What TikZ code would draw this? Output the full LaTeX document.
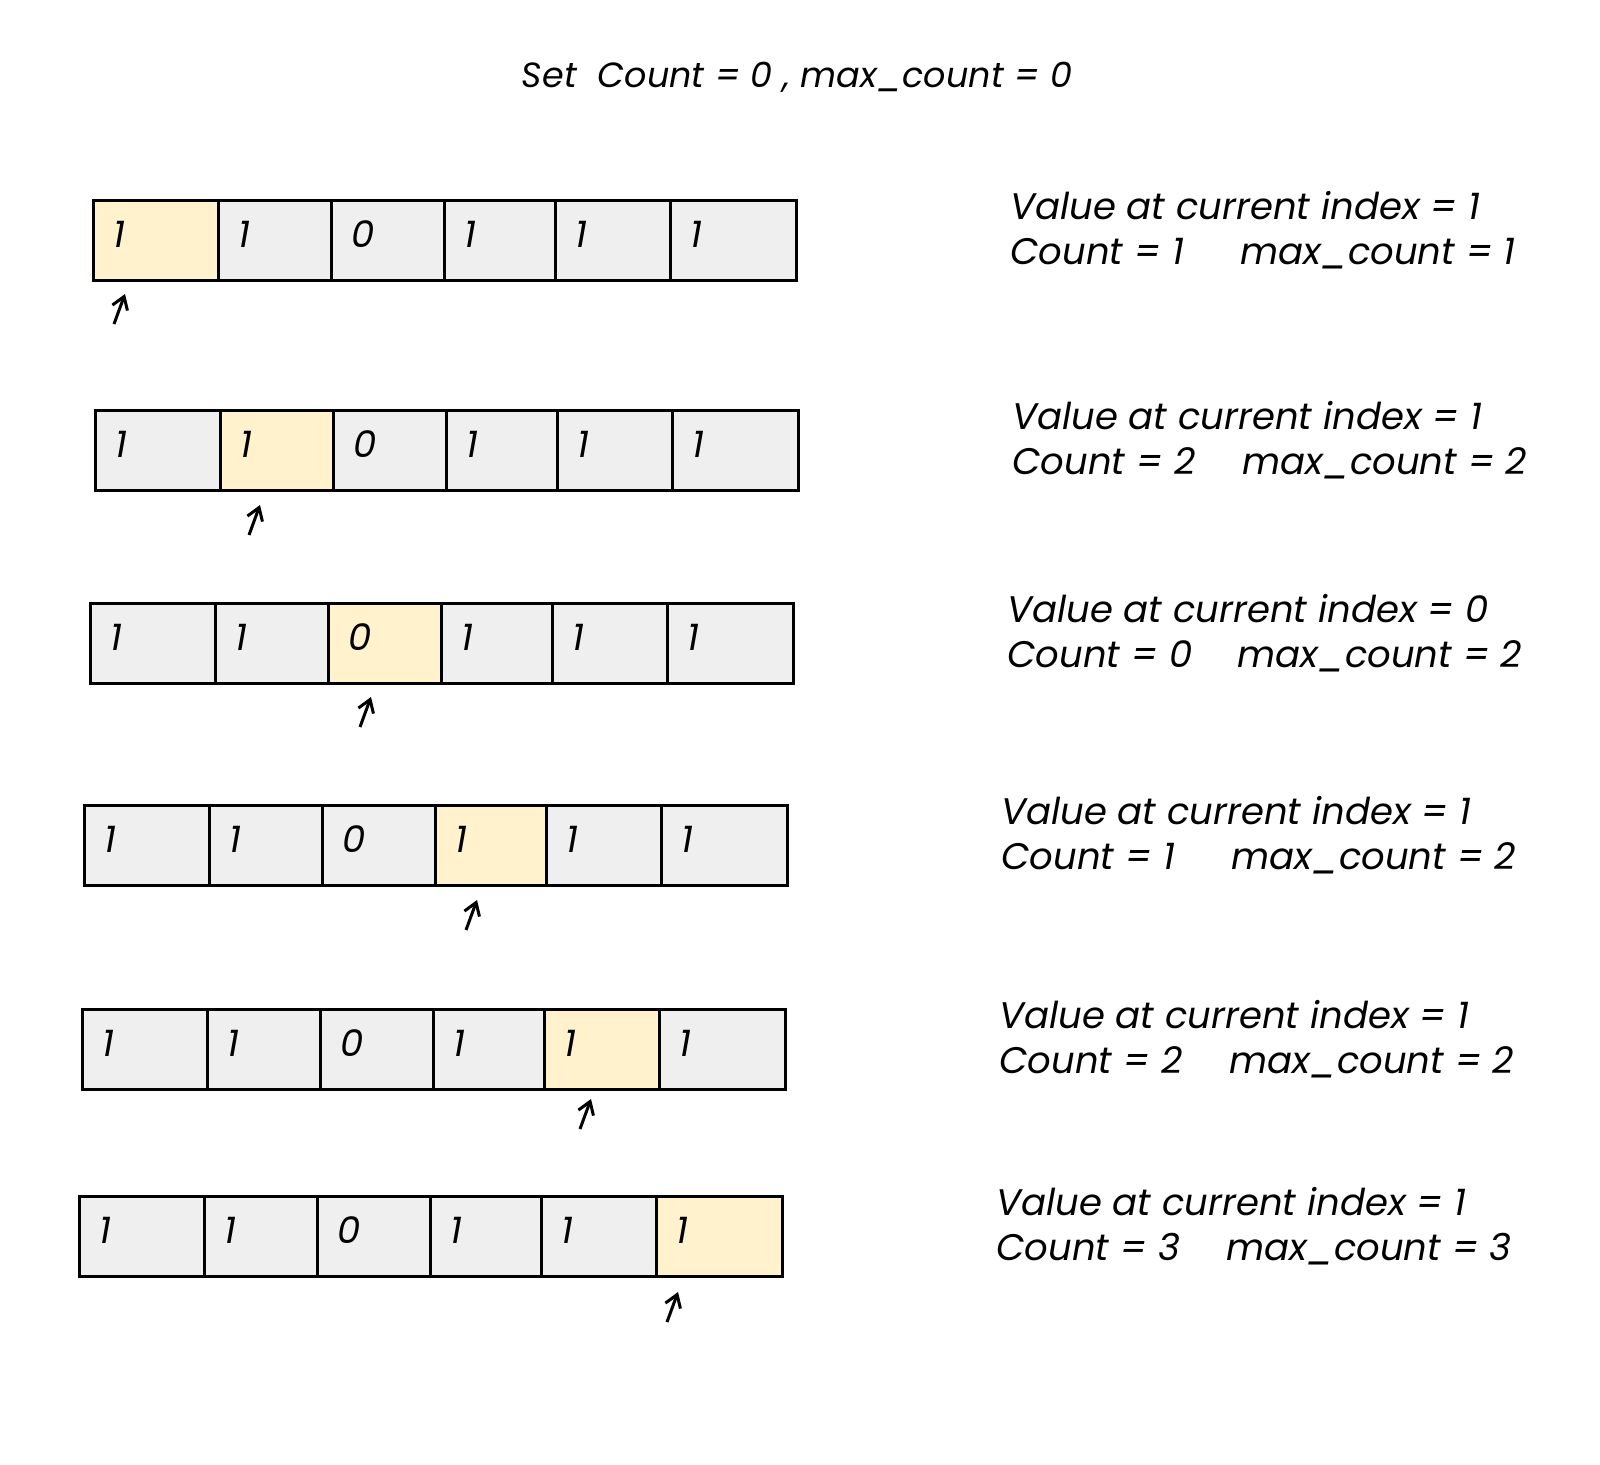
\documentclass[tikz,border=0pt]{standalone}
\usepackage{fontspec}
\setmainfont{Poppins}
\usetikzlibrary{arrows.meta,positioning}
\definecolor{cellgray}{HTML}{EFEFEF}
\definecolor{curcell}{HTML}{FFF2CC}

\begin{document}
\begin{tikzpicture}[x=0.5pt,y=-0.5pt,font=\fontsize{18.5}{22.5}\selectfont\itshape,>={Straight Barb[length=6pt,width=8pt]},
 cell/.style={draw,line width=1.4pt,fill=cellgray,minimum height=40pt,inner xsep=10pt,inner ysep=0pt,text depth=6pt,align=left,anchor=north west},
 plain/.style={},
 cur/.style={fill=curcell},
 ptr/.style={->,line width=1.5pt},
 info/.style={anchor=west,align=left,inner sep=0pt}]
\useasboundingbox (0,0) rectangle (1600,1464);
\node[inner sep=0pt,font=\fontsize{17.5}{21}\selectfont\itshape] (title) at (797,77) {Set\ \ Count = 0 , max\_count = 0};
% one row per step: left, top, current cell, value, count, max, arrow tail
\foreach \r/\x/\y/\k/\v/\c/\m/\ax/\ay in {1/92/199/1/1/1/1/114/324, 2/94/409/2/1/2/2/249/535, 3/89/602/3/0/0/2/360/727,
 4/83/804/4/1/1/2/466/930, 5/81/1008/5/1/2/2/580/1129, 6/78/1195/6/1/3/3/667/1322}{
  \foreach \i/\o/\w/\d in {1/0/125/1, 2/125/113/1, 3/238/113/0, 4/351/111/1, 5/462/115/1, 6/577/126/1}{
    \ifnum\i=\k \def\st{cur}\else\def\st{plain}\fi
    \pgfmathsetmacro\tw{(\w-40)*0.5}
    \pgfmathsetmacro\mw{\w*0.5}
    \node[cell,\st,minimum width=\mw pt,text width=\tw pt] (c\r-\i) at (\x+\o,\y) {\d};
  }
  \node[info,right=106pt of c\r-6,yshift=5pt] (t\r) {Value at current index = \v\\
    \makebox[115pt][l]{Count = \c}max\_count = \m};
  \coordinate (b\r) at (\ax,\ay);
  \coordinate (p\r) at (\ax+11,\ay-30);
  \draw[ptr] (b\r) -- (p\r);
}
\end{tikzpicture}
\end{document}
